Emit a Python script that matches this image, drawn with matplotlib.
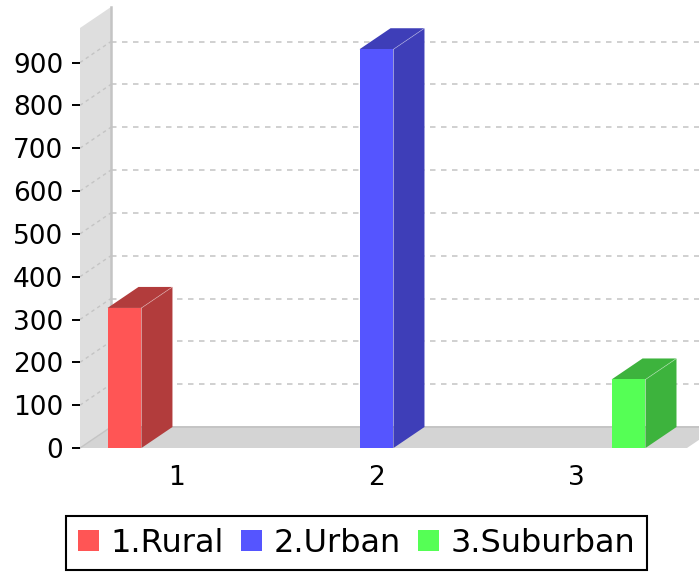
import matplotlib
matplotlib.use("Agg")
import matplotlib.pyplot as plt
from matplotlib.patches import Polygon, Patch

# ---- data ----
series_names = ["1.Rural", "2.Urban", "3.Suburban"]
categories = ["1", "2", "3"]
values = [327, 931, 160]
front_colors = ["#ff5555", "#5555ff", "#55ff55"]
side_colors = ["#b23c3c", "#3e3eb8", "#3db33d"]
yticks = [0, 100, 200, 300, 400, 500, 600, 700, 800, 900]

W, H, DPI = 699, 572, 100
fig = plt.figure(figsize=(W / DPI, H / DPI), dpi=DPI)
plt.rcParams['font.family'] = ['DejaVu Sans']

# front plot rectangle in pixels
L, R, B, T = 80, 687, 448, 28
ax = fig.add_axes([L / W, (H - B) / H, (R - L) / W, (B - T) / H])
ax.set_xlim(0.514, 3.556)
ax.set_ylim(0, 980.6)
ax.set_facecolor("none")
for s in ax.spines.values():
    s.set_visible(False)

x0, x1 = ax.get_xlim()
y0, y1 = ax.get_ylim()
ux = (x1 - x0) / (R - L)
uy = (y1 - y0) / (B - T)
DX = 31 * ux
DY = 21 * uy

wall_c = "#dedede"
floor_c = "#d4d4d4"
edge_c = "#c4c4c4"

# left wall
ax.add_patch(Polygon([(x0, y0), (x0 + DX, y0 + DY), (x0 + DX, y1 + DY), (x0, y1)],
                     closed=True, facecolor=wall_c, edgecolor="none", clip_on=False, zorder=0))
# floor
ax.add_patch(Polygon([(x0, y0), (x1, y0), (x1 + DX, y0 + DY), (x0 + DX, y0 + DY)],
                     closed=True, facecolor=floor_c, edgecolor="none", clip_on=False, zorder=0))
# wall / floor edges
ax.plot([x0 + DX, x0 + DX], [y0 + DY, y1 + DY], color=edge_c, lw=1.8, clip_on=False, zorder=1)
ax.plot([x0 + DX, x1 + DX], [y0 + DY, y0 + DY], color=edge_c, lw=1.4, clip_on=False, zorder=1)
ax.plot([x0, x0 + DX], [y0, y0 + DY], color=edge_c, lw=1.0, clip_on=False, zorder=1)

# gridlines on back plane and wall
for v in yticks[1:]:
    ax.plot([x0 + DX, x1 + DX], [v + DY, v + DY], color="#c4c4c4", lw=1.1,
            linestyle=(0, (3.6, 3.6)), clip_on=False, zorder=1)
    ax.plot([x0, x0 + DX], [v, v + DY], color="#c4c4c4", lw=1.0,
            linestyle=(0, (2.5, 2.5)), clip_on=False, zorder=1)

# bars
n = len(series_names)
offset = 0.263
bw = 0.170
for s in range(n):
    c = s + 1
    xc = c + (s - (n - 1) / 2) * offset
    xl, xr = xc - bw / 2, xc + bw / 2
    v = values[s]
    ax.add_patch(Polygon([(xr, 0), (xr + DX, DY), (xr + DX, v + DY), (xr, v)], closed=True,
                         facecolor=side_colors[s], edgecolor="none", clip_on=False, zorder=3))
    ax.add_patch(Polygon([(xl, v), (xl + DX, v + DY), (xr + DX, v + DY), (xr, v)], closed=True,
                         facecolor=side_colors[s], edgecolor="none", clip_on=False, zorder=3))
    ax.add_patch(Polygon([(xl, 0), (xr, 0), (xr, v), (xl, v)], closed=True,
                         facecolor=front_colors[s], edgecolor="none", clip_on=False, zorder=4))
    ax.plot([xr, xr + DX], [v, v + DY], color="white", alpha=0.35, lw=0.6, zorder=5, clip_on=False)

ax.set_yticks(yticks)
ax.set_yticklabels([str(t) for t in yticks])
ax.set_xticks([1, 2, 3])
ax.set_xticklabels(categories)
ax.tick_params(axis="y", length=6, width=1.4, color="black", pad=6, labelsize=19)
ax.tick_params(axis="x", length=0, pad=12, labelsize=19)

handles = [Patch(facecolor=front_colors[i], edgecolor="none", label=series_names[i]) for i in range(n)]
leg = fig.legend(handles=handles, loc="lower center", bbox_to_anchor=(356.5 / W, 2 / H),
                 ncol=3, frameon=True, fancybox=False, fontsize=23, framealpha=1,
                 handlelength=0.66, handleheight=0.66, handletextpad=0.35,
                 columnspacing=0.55, borderpad=0.36, borderaxespad=0)
leg.get_frame().set_edgecolor("black")
leg.get_frame().set_linewidth(1.5)

fig.savefig("out.png", dpi=DPI)
